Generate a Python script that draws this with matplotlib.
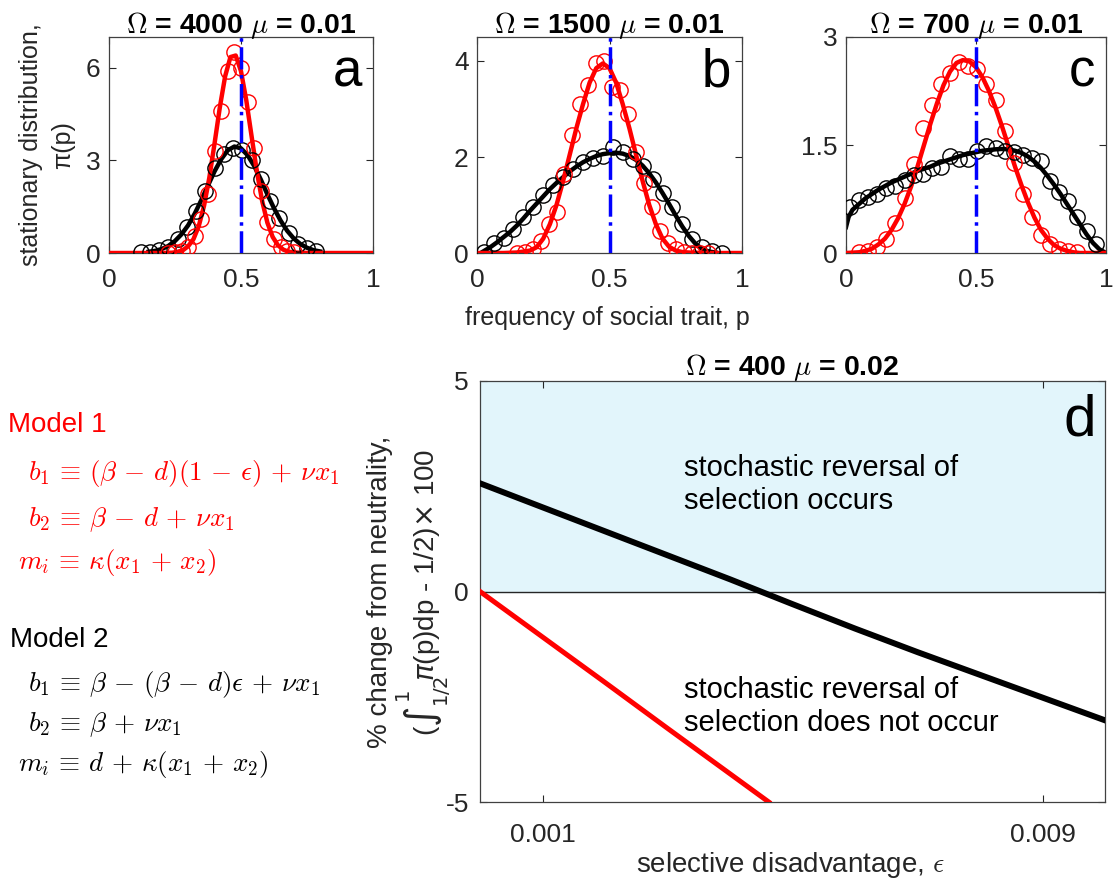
import matplotlib
matplotlib.use("Agg")
import matplotlib.pyplot as plt

plt.rcParams["font.family"] = ["Liberation Sans", "DejaVu Sans"]
plt.rcParams["mathtext.fontset"] = "cm"

# ---- panel a (Omega = 4000) ----
a_red_p = [0.0, 0.2, 0.24, 0.26, 0.28, 0.30, 0.32, 0.34, 0.36, 0.38, 0.40, 0.42, 0.44, 0.46, 0.48,
           0.50, 0.52, 0.54, 0.56, 0.58, 0.60, 0.62, 0.64, 0.66, 0.68, 0.70, 0.72, 0.76, 1.0]
a_red = [0.0, 0.0, 0.01, 0.04, 0.09, 0.22, 0.45, 0.87, 1.53, 2.44, 3.56, 4.73, 5.73, 6.35, 6.40,
         5.89, 4.95, 3.79, 2.65, 1.69, 0.98, 0.52, 0.25, 0.11, 0.04, 0.02, 0.01, 0.0, 0.0]
a_blk_p = [0.15, 0.175, 0.2, 0.225, 0.25, 0.275, 0.3, 0.325, 0.35, 0.375, 0.4, 0.425, 0.45, 0.475,
           0.5, 0.525, 0.55, 0.575, 0.6, 0.625, 0.65, 0.675, 0.7, 0.725, 0.75, 0.775, 0.8]
a_blk = [0.04, 0.07, 0.13, 0.23, 0.39, 0.61, 0.90, 1.28, 1.72, 2.19, 2.65, 3.04, 3.33, 3.45,
         3.39, 3.17, 2.82, 2.38, 1.90, 1.45, 1.05, 0.72, 0.47, 0.29, 0.17, 0.09, 0.05]
a_blk_sim_p = [0.12, 0.155, 0.19, 0.225, 0.26, 0.295, 0.33, 0.365, 0.40, 0.435, 0.47, 0.505,
               0.54, 0.575, 0.61, 0.645, 0.68, 0.715, 0.75, 0.785]
a_blk_sim = [0.02, 0.04, 0.09, 0.2, 0.45, 0.85, 1.35, 2.0, 2.75, 3.2, 3.4, 3.35,
             3.0, 2.4, 1.7, 1.15, 0.65, 0.3, 0.15, 0.05]
a_red_sim_p = [0.225, 0.25, 0.275, 0.30, 0.325, 0.35, 0.375, 0.40, 0.425, 0.45, 0.475, 0.50,
               0.525, 0.55, 0.575, 0.60, 0.625, 0.65, 0.675, 0.70]
a_red_sim = [0.01, 0.03, 0.08, 0.2, 0.55, 1.1, 1.9, 3.3, 4.6, 5.9, 6.5, 6.0,
             4.9, 3.4, 2.0, 1.0, 0.45, 0.18, 0.06, 0.02]

# ---- panel b (Omega = 1500) ----
b_red_p = [0.0, 0.1, 0.15, 0.2, 0.225, 0.25, 0.275, 0.3, 0.325, 0.35, 0.375, 0.4, 0.425, 0.45,
           0.475, 0.5, 0.525, 0.55, 0.575, 0.6, 0.625, 0.65, 0.675, 0.7, 0.725, 0.75, 0.775,
           0.8, 0.85, 1.0]
b_red = [0.0, 0.0, 0.01, 0.05, 0.12, 0.3, 0.6, 1.0, 1.5, 2.05, 2.6, 3.1, 3.55, 3.85,
         3.95, 3.85, 3.55, 3.1, 2.6, 2.05, 1.5, 1.0, 0.6, 0.3, 0.13, 0.05, 0.02,
         0.01, 0.0, 0.0]
b_blk_p = [0.02, 0.05, 0.075, 0.1, 0.125, 0.15, 0.175, 0.2, 0.225, 0.25, 0.275, 0.3, 0.325,
           0.35, 0.375, 0.4, 0.425, 0.45, 0.475, 0.5, 0.525, 0.55, 0.575, 0.6, 0.625, 0.65,
           0.675, 0.7, 0.725, 0.75, 0.775, 0.8, 0.825, 0.85, 0.875, 0.9]
b_blk = [0.02, 0.12, 0.22, 0.33, 0.44, 0.57, 0.72, 0.88, 1.03, 1.18, 1.33, 1.46, 1.58,
         1.7, 1.8, 1.89, 1.96, 2.02, 2.06, 2.08, 2.09, 2.07, 2.02, 1.94, 1.82, 1.66,
         1.47, 1.25, 1.02, 0.78, 0.55, 0.35, 0.19, 0.08, 0.03, 0.01]
b_blk_sim_p = [0.025, 0.0625, 0.1, 0.1375, 0.175, 0.2125, 0.25, 0.2875, 0.325, 0.3625, 0.4,
               0.4375, 0.475, 0.5125, 0.55, 0.5875, 0.625, 0.6625, 0.7, 0.7375, 0.775,
               0.8125, 0.85, 0.8875, 0.925]
b_blk_sim = [0.03, 0.2, 0.32, 0.5, 0.75, 0.95, 1.2, 1.42, 1.58, 1.75, 1.9, 1.98, 2.03, 2.2,
             2.1, 1.95, 1.82, 1.55, 1.25, 0.95, 0.6, 0.3, 0.12, 0.04, 0.01]
b_red_sim_p = [0.15, 0.18, 0.21, 0.24, 0.27, 0.30, 0.33, 0.36, 0.39, 0.42, 0.45, 0.48, 0.51,
               0.54, 0.57, 0.60, 0.63, 0.66, 0.69, 0.72, 0.75, 0.78, 0.81, 0.84, 0.87]
b_red_sim = [0.01, 0.03, 0.08, 0.25, 0.6, 0.85, 1.65, 2.45, 3.1, 3.5, 3.95, 4.0, 3.45,
             3.4, 2.9, 2.1, 1.45, 0.95, 0.45, 0.2, 0.08, 0.03, 0.01, 0.01, 0.0]

# ---- panel c (Omega = 700) ----
c_red_p = [0.0, 0.05, 0.075, 0.1, 0.125, 0.15, 0.175, 0.2, 0.225, 0.25, 0.275, 0.3, 0.325, 0.35,
           0.375, 0.4, 0.425, 0.45, 0.475, 0.5, 0.525, 0.55, 0.575, 0.6, 0.625, 0.65, 0.675,
           0.7, 0.725, 0.75, 0.775, 0.8, 0.825, 0.85, 0.875, 0.9, 1.0]
c_red = [0.0, 0.01, 0.03, 0.06, 0.12, 0.2, 0.32, 0.48, 0.68, 0.92, 1.2, 1.5, 1.8, 2.08,
         2.33, 2.52, 2.64, 2.68, 2.66, 2.58, 2.44, 2.25, 2.02, 1.76, 1.48, 1.2, 0.94,
         0.7, 0.49, 0.32, 0.2, 0.11, 0.06, 0.03, 0.01, 0.0, 0.0]
c_blk_p = [0.0, 0.01, 0.025, 0.05, 0.075, 0.1, 0.125, 0.15, 0.175, 0.2, 0.225, 0.25, 0.275, 0.3,
           0.325, 0.35, 0.375, 0.4, 0.425, 0.45, 0.475, 0.5, 0.525, 0.55, 0.575, 0.6, 0.625,
           0.65, 0.675, 0.7, 0.725, 0.75, 0.775, 0.8, 0.825, 0.85, 0.875, 0.9, 0.925, 0.95,
           0.975, 0.99]
c_blk = [0.36, 0.5, 0.6, 0.68, 0.76, 0.82, 0.88, 0.93, 0.98, 1.02, 1.06, 1.1, 1.14, 1.17,
         1.2, 1.24, 1.27, 1.3, 1.33, 1.36, 1.38, 1.4, 1.42, 1.43, 1.44, 1.445, 1.44,
         1.42, 1.39, 1.34, 1.27, 1.18, 1.07, 0.95, 0.82, 0.68, 0.54, 0.4, 0.26, 0.14,
         0.05, 0.02]
c_blk_sim_p = [0.015, 0.05, 0.085, 0.12, 0.155, 0.19, 0.225, 0.26, 0.295, 0.33, 0.365, 0.40,
               0.435, 0.47, 0.505, 0.54, 0.575, 0.61, 0.645, 0.68, 0.715, 0.75, 0.785, 0.82,
               0.855, 0.89, 0.925, 0.96]
c_blk_sim = [0.64, 0.73, 0.78, 0.82, 0.9, 0.93, 1.02, 1.08, 1.1, 1.18, 1.2, 1.35,
             1.3, 1.3, 1.42, 1.48, 1.46, 1.42, 1.4, 1.36, 1.32, 1.28, 1.0, 0.85,
             0.72, 0.5, 0.3, 0.12]
c_red_sim_p = [0.05, 0.085, 0.12, 0.155, 0.19, 0.225, 0.26, 0.295, 0.33, 0.365, 0.40, 0.435,
               0.47, 0.505, 0.54, 0.575, 0.61, 0.645, 0.68, 0.715, 0.75, 0.785, 0.82, 0.855, 0.89]
c_red_sim = [0.01, 0.03, 0.08, 0.2, 0.42, 0.77, 1.23, 1.74, 2.05, 2.35, 2.5, 2.65,
             2.6, 2.55, 2.35, 2.12, 1.7, 1.25, 0.82, 0.5, 0.25, 0.12, 0.06, 0.03, 0.01]

# ---- panel d (Omega = 400, mu = 0.02) ----
d_eps = [0.0, 0.001, 0.002, 0.003, 0.004, 0.005, 0.006, 0.007, 0.008, 0.009, 0.01]
d_model2 = [2.57, 2.0, 1.43, 0.86, 0.29, -0.3, -0.88, -1.44, -1.98, -2.52, -3.06]
d_eps_m1 = [0.0, 0.001, 0.002, 0.003, 0.004, 0.00462]
d_model1 = [0.0, -1.08, -2.16, -3.25, -4.33, -5.0]

top_panels = [
    ("a", r"$\Omega$ = 4000 $\mu$ = 0.01", 7, [0, 3, 6], ["0", "3", "6"],
     a_red_p, a_red, a_blk_p, a_blk, a_red_sim_p, a_red_sim, a_blk_sim_p, a_blk_sim),
    ("b", r"$\Omega$ = 1500 $\mu$ = 0.01", 4.5, [0, 2, 4], ["0", "2", "4"],
     b_red_p, b_red, b_blk_p, b_blk, b_red_sim_p, b_red_sim, b_blk_sim_p, b_blk_sim),
    ("c", r"$\Omega$ = 700 $\mu$ = 0.01", 3, [0, 1.5, 3], ["0", "1.5", "3"],
     c_red_p, c_red, c_blk_p, c_blk, c_red_sim_p, c_red_sim, c_blk_sim_p, c_blk_sim),
]

W, H = 1120, 886
TXT = "#262626"
fig = plt.figure(figsize=(W / 100, H / 100), dpi=100)


def box(x0, y0, x1, y1):
    return [x0 / W, 1 - y1 / H, (x1 - x0) / W, (y1 - y0) / H]


def at(x, y):
    return x / W, 1 - y / H


def style(ax, xpad, ypad):
    ax.tick_params(direction="in", top=True, right=True, length=5, width=0.8,
                   colors=TXT, labelsize=19)
    ax.tick_params(axis="x", pad=xpad)
    ax.tick_params(axis="y", pad=ypad)
    for s in ax.spines.values():
        s.set_color("#404040")
        s.set_linewidth(0.9)


edges = [(109, 373), (477, 742), (846, 1106)]
for (x0, x1), panel in zip(edges, top_panels):
    (lab, title, ytop, yt, ytl, rp, rv, bp, bv, rsp, rsv, bsp, bsv) = panel
    ax = fig.add_axes(box(x0, 37, x1, 253))
    ax.plot(bp, bv, color="black", lw=3.2, zorder=2)
    ax.plot(rp, rv, color="red", lw=3.2, zorder=3)
    ax.plot(bsp, bsv, "o", mfc="none", mec="black", ms=11, mew=1.0, zorder=4)
    ax.plot(rsp, rsv, "o", mfc="none", mec="red", ms=11, mew=1.0, zorder=4)
    ax.axvline(0.5, color="blue", ls="-.", lw=2.5, zorder=5)
    ax.set_xlim(0, 1)
    ax.set_ylim(0, ytop)
    ax.set_xticks([0, 0.5, 1])
    ax.set_xticklabels(["0", "0.5", "1"])
    ax.set_yticks(yt)
    ax.set_yticklabels(ytl)
    style(ax, 11, 6)
    ax.set_title(title, fontsize=20.5, fontweight="bold", pad=3, math_fontfamily="cm")
    ax.text(0.96, 0.95, lab, transform=ax.transAxes, ha="right", va="top", fontsize=38)

fig.text(*at(47, 145), "stationary distribution,\n\u03c0(p)", rotation=90, ha="center",
         va="center", fontsize=18, color=TXT, linespacing=1.45)
fig.text(*at(607, 318), "frequency of social trait, p", ha="center", va="center",
         fontsize=18, color=TXT)

# ---- panel d ----
axd = fig.add_axes(box(480, 381, 1105, 802))
axd.axhspan(0, 5, color="#E2F5FB", zorder=0)
axd.axhline(0, color=TXT, lw=1.0, zorder=1)
axd.plot(d_eps, d_model2, color="black", lw=4.3, zorder=3)
axd.plot(d_eps_m1, d_model1, color="red", lw=3.6, zorder=3)
axd.set_xlim(0, 0.01)
axd.set_ylim(-5, 5)
axd.set_xticks([0.001, 0.009])
axd.set_xticklabels(["0.001", "0.009"])
axd.set_yticks([-5, 0, 5])
axd.set_yticklabels(["-5", "0", "5"])
style(axd, 15, 8)
axd.set_title(r"$\Omega$ = 400 $\mu$ = 0.02", fontsize=20.5, fontweight="bold", pad=4,
              math_fontfamily="cm")
axd.text(0.985, 0.97, "d", transform=axd.transAxes, ha="right", va="top", fontsize=42)
axd.text(0.00327, 2.54, "stochastic reversal of\nselection occurs", fontsize=21,
         va="center", ha="left", linespacing=1.2)
axd.text(0.00327, -2.73, "stochastic reversal of\nselection does not occur", fontsize=21,
         va="center", ha="left", linespacing=1.2)
fig.text(*at(410, 592), "% change from neutrality,\n" +
         r"($\int_{1/2}^{1}\!\pi$(p)dp - 1/2)$\times$ 100",
         rotation=90, ha="center", va="center", fontsize=20, color=TXT,
         linespacing=1.05, math_fontfamily="dejavusans")
fig.text(*at(790, 865), r"selective disadvantage, $\epsilon$", ha="center", va="center",
         fontsize=20, color=TXT, math_fontfamily="cm")

# ---- model definitions ----
m1 = [(28, 473, r"$b_1 \,\equiv\, (\beta \,-\, d)(1 \,-\, \epsilon) \,+\, \nu x_1$"),
      (28, 520, r"$b_2 \,\equiv\, \beta \,-\, d \,+\, \nu x_1$"),
      (18, 563, r"$m_i \,\equiv\, \kappa(x_1 \,+\, x_2)$")]
m2 = [(28, 685, r"$b_1 \,\equiv\, \beta \,-\, (\beta \,-\, d)\epsilon \,+\, \nu x_1$"),
      (28, 725, r"$b_2 \,\equiv\, \beta \,+\, \nu x_1$"),
      (18, 765, r"$m_i \,\equiv\, d \,+\, \kappa(x_1 \,+\, x_2)$")]
fig.text(*at(8, 425), "Model 1", color="red", fontsize=20, va="center")
fig.text(*at(10, 640), "Model 2", color="black", fontsize=20, va="center")
for x, y, s in m1:
    fig.text(*at(x, y), s, color="red", fontsize=19.5, va="center", math_fontfamily="cm")
for x, y, s in m2:
    fig.text(*at(x, y), s, color="black", fontsize=19.5, va="center", math_fontfamily="cm")

fig.savefig("out.png", dpi=100)
